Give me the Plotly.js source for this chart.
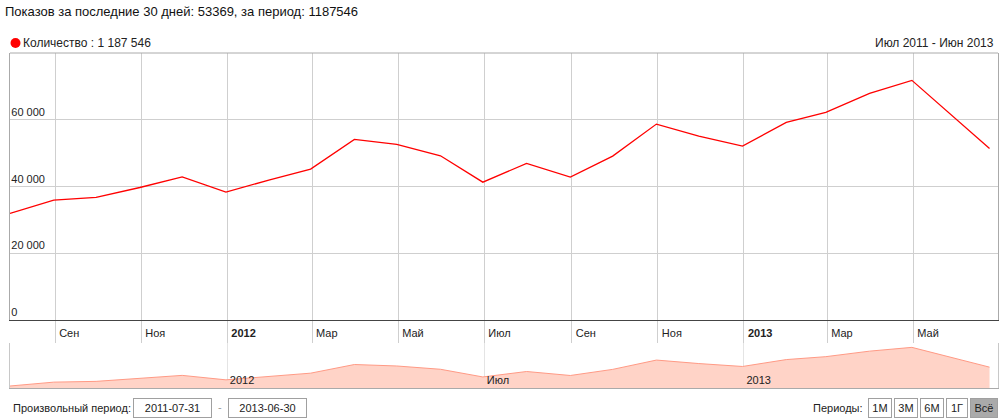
<!DOCTYPE html>
<html>
<head>
<meta charset="utf-8">
<script src="https://cdn.plot.ly/plotly-3.0.1.min.js"></script>
<style>
html,body{margin:0;padding:0;background:#fff;}
#chart{width:1001px;height:418px;}
</style>
</head>
<body>
<div id="chart"></div>
<script>
// ---- data ----
const dates = ['2011-07-31','2011-08-31','2011-09-30','2011-10-31','2011-11-30','2011-12-31',
  '2012-01-31','2012-02-29','2012-03-31','2012-04-30','2012-05-31','2012-06-30',
  '2012-07-31','2012-08-31','2012-09-30','2012-10-31','2012-11-30','2012-12-31',
  '2013-01-31','2013-02-28','2013-03-31','2013-04-30','2013-06-24'];
const views = [31950, 35950, 36750, 39700, 42900, 38300,
  42000, 45200, 54100, 52600, 49200, 41300,
  46900, 42800, 49100, 58700, 55100, 52100,
  59200, 62200, 67900, 71800, 51400];
const xTickVals = ['2011-09-01','2011-11-01','2012-01-01','2012-03-01','2012-05-01','2012-07-01',
  '2012-09-01','2012-11-01','2013-01-01','2013-03-01','2013-05-01'];
const xTickText = ['Сен','Ноя','<b>2012</b>','Мар','Май','Июл','Сен','Ноя','<b>2013</b>','Мар','Май'];
const navTickVals = ['2012-01-01','2012-07-01','2013-01-01'];
const navTickText = ['2012','Июл','2013'];
const yTickVals = [0, 20000, 40000, 60000];
const yTickText = ['0','20 000','40 000','60 000'];
const rangeStart = '2011-07-31';
const rangeEnd = '2013-06-30';
const periodButtons = ['1М','3М','6М','1Г','Всё'];
const titleText = 'Показов за последние 30 дней: 53369, за период: 1187546';
const legendText = 'Количество : 1 187 546';
const rangeText = 'Июл 2011 - Июн 2013';

// ---- layout helpers (pixel -> paper) ----
const L = 10, R = 998, T = 53, B = 388;
const X = px => (px - L) / (R - L);
const Y = py => (B - py) / (B - T);
const FONT = '"Liberation Sans", Arial, sans-serif';

const traces = [
  {x: dates, y: views, type: 'scatter', mode: 'lines', xaxis: 'x', yaxis: 'y',
   line: {color: '#ff0000', width: 1.3}, hoverinfo: 'skip'},
  {x: dates, y: views, type: 'scatter', mode: 'lines', xaxis: 'x2', yaxis: 'y2',
   fill: 'tozeroy', fillcolor: '#ffd3c7', line: {color: '#ff9a85', width: 1}, hoverinfo: 'skip'}
];

function box(text, x0, x1, bg) {
  return {xref: 'paper', yref: 'paper', x: X(x0), y: Y(397.5), xanchor: 'left', yanchor: 'top',
    text: text, showarrow: false, width: x1 - x0 - 2, height: 18, borderpad: 0, borderwidth: 1,
    bordercolor: '#a0a0a0', bgcolor: bg || '#ffffff', align: 'center', valign: 'middle',
    font: {family: FONT, size: 11, color: '#222'}};
}

const btnX = [[868, 892], [894, 918], [920, 944], [946, 968], [970, 998]];
const annotations = [
  {xref: 'paper', yref: 'paper', x: X(21), y: Y(43), xanchor: 'left', yanchor: 'middle',
   text: legendText, showarrow: false, font: {family: FONT, size: 12, color: '#222'}},
  {xref: 'paper', yref: 'paper', x: X(996), y: Y(43), xanchor: 'right', yanchor: 'middle',
   text: rangeText, showarrow: false, font: {family: FONT, size: 12, color: '#222'}},
  {xref: 'paper', yref: 'paper', x: X(11), y: Y(408), xanchor: 'left', yanchor: 'middle',
   text: 'Произвольный период:', showarrow: false, font: {family: FONT, size: 11, color: '#222'}},
  {xref: 'paper', yref: 'paper', x: X(220), y: Y(407), xanchor: 'center', yanchor: 'middle',
   text: '-', showarrow: false, font: {family: FONT, size: 11, color: '#999'}},
  box(rangeStart, 133, 212),
  box(rangeEnd, 228, 307),
  {xref: 'paper', yref: 'paper', x: X(865), y: Y(408), xanchor: 'right', yanchor: 'middle',
   text: 'Периоды:', showarrow: false, font: {family: FONT, size: 11, color: '#222'}}
];
periodButtons.forEach((t, i) => {
  annotations.push(box(t, btnX[i][0], btnX[i][1], i === periodButtons.length - 1 ? '#aaaaaa' : '#ffffff'));
});

const layout = {
  width: 1001, height: 418,
  margin: {l: L, r: 1001 - R, t: T, b: 418 - B, pad: 0},
  paper_bgcolor: '#ffffff', plot_bgcolor: '#ffffff',
  showlegend: false,
  font: {family: FONT, size: 11, color: '#222'},
  title: {text: titleText, x: 5 / 1001, xref: 'container', xanchor: 'left',
          y: 1 - 11 / 418, yref: 'container', yanchor: 'middle',
          font: {family: FONT, size: 13, color: '#111'}},
  xaxis: {type: 'date', range: [rangeStart, rangeEnd], domain: [0, 1], anchor: 'y',
    tickmode: 'array', tickvals: xTickVals, ticktext: xTickText,
    showgrid: true, gridcolor: '#cfcfcf', gridwidth: 1,
    ticks: 'outside', ticklen: 22, tickcolor: '#cfcfcf', tickwidth: 1,
    ticklabelposition: 'outside right', ticklabelstandoff: 3, ticklabelshift: 3,
    showline: true, linecolor: '#444', linewidth: 1, mirror: false, zeroline: false,
    tickfont: {family: FONT, size: 11, color: '#222'}, fixedrange: true},
  yaxis: {range: [0, 80000], domain: [Y(320), 1], anchor: 'x',
    tickmode: 'array', tickvals: yTickVals, ticktext: yTickText,
    ticklabelposition: 'inside top', showgrid: true, gridcolor: '#cfcfcf', gridwidth: 1,
    ticks: '', showline: true, mirror: true, linecolor: '#aaaaaa', linewidth: 1, zeroline: false,
    tickfont: {family: FONT, size: 11, color: '#222'}, fixedrange: true},
  xaxis2: {type: 'date', range: [rangeStart, rangeEnd], domain: [0, 1], anchor: 'y2',
    tickmode: 'array', tickvals: navTickVals, ticktext: navTickText,
    showgrid: true, gridcolor: '#e4e4e4', ticks: '',
    ticklabelposition: 'inside right', ticklabelshift: 2, ticklabelstandoff: -2,
    showline: true, linecolor: '#aaaaaa', linewidth: 1, zeroline: false,
    tickfont: {family: FONT, size: 11, color: '#222'}, fixedrange: true},
  yaxis2: {range: [29900, 76300], domain: [0, Y(343)], anchor: 'x2',
    showticklabels: false, showgrid: false, ticks: '', zeroline: false,
    showline: true, mirror: true, linecolor: '#c8c8c8', linewidth: 1, fixedrange: true},
  shapes: [
    {type: 'line', xref: 'paper', yref: 'paper', x0: 0, x1: 1, y0: 1, y1: 1,
     line: {color: '#aaaaaa', width: 1}},
    {type: 'circle', xref: 'paper', yref: 'paper', xsizemode: 'pixel', ysizemode: 'pixel',
     xanchor: X(15.5), yanchor: Y(43), x0: -5, x1: 5, y0: -5, y1: 5,
     fillcolor: '#ff0000', line: {width: 0}}
  ],
  annotations: annotations
};

Plotly.newPlot('chart', traces, layout, {staticPlot: true, displayModeBar: false});
</script>
</body>
</html>
